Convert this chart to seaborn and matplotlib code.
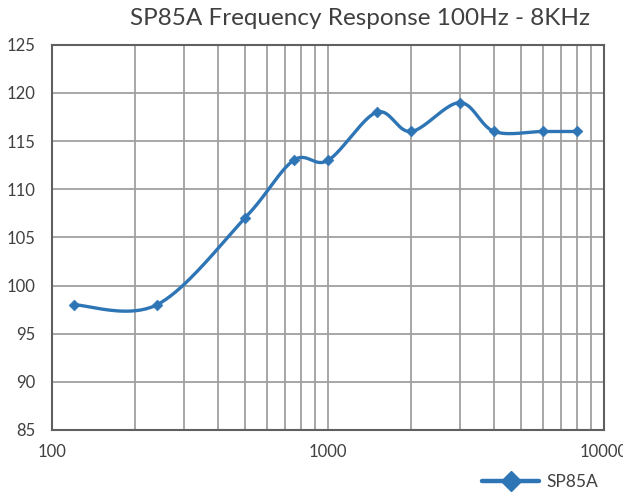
import numpy as np
import matplotlib
matplotlib.use("Agg")
import matplotlib.pyplot as plt
from matplotlib.lines import Line2D
from matplotlib.ticker import LogLocator, NullFormatter, FixedLocator
import seaborn as sns
import pandas as pd

freq_hz = [120, 240, 500, 750, 1000, 1500, 2000, 3000, 4000, 6000, 8000]
spl_db = [98, 98, 107, 113, 113, 118, 116, 119, 116, 116, 116]
series_name = "SP85A"
title = "SP85A Frequency Response 100Hz - 8KHz"

blue = "#2E75B6"
grid_c = "#A0A0A0"


def smooth_curve(xs, ys, n=40):
    # bezier smoothing like spreadsheet "smoothed line", done in log-x space
    u = np.log10(np.asarray(xs, float)) * 276.0
    v = np.asarray(ys, float) * 9.625
    pts = np.column_stack([u, v])
    out = [pts[0]]
    for i in range(len(pts) - 1):
        p0 = pts[i - 1] if i > 0 else pts[i]
        p1 = pts[i]
        p2 = pts[i + 1]
        p3 = pts[i + 2] if i + 2 < len(pts) else pts[i + 1]
        c1 = p1 + (p2 - p0) / 6.0
        c2 = p2 - (p3 - p1) / 6.0
        t = np.linspace(0, 1, n)[1:, None]
        seg = ((1 - t) ** 3) * p1 + 3 * ((1 - t) ** 2) * t * c1 + 3 * (1 - t) * t ** 2 * c2 + t ** 3 * p2
        out.extend(seg)
    out = np.array(out)
    return 10 ** (out[:, 0] / 276.0), out[:, 1] / 9.625


sns.set_theme(style="white")
plt.rcParams["font.family"] = ["Lato", "DejaVu Sans"]

fig = plt.figure(figsize=(6.23, 4.93), dpi=100)
ax = fig.add_axes([0.0835, 0.128, 0.886, 0.781])

sx, sy = smooth_curve(freq_hz, spl_db)
curve = pd.DataFrame({"f": sx, "db": sy})
pts = pd.DataFrame({"f": freq_hz, "db": spl_db})
sns.lineplot(data=curve, x="f", y="db", ax=ax, color=blue, lw=2.4, sort=False, zorder=3)
sns.scatterplot(data=pts, x="f", y="db", ax=ax, color=blue, marker="D", s=30,
                edgecolor=blue, zorder=4)

ax.set_xscale("log")
ax.set_xlim(100, 10000)
ax.set_ylim(85, 125)
ax.xaxis.set_major_locator(FixedLocator([100, 1000, 10000]))
ax.xaxis.set_minor_locator(LogLocator(base=10, subs=np.arange(2, 10)))
ax.xaxis.set_minor_formatter(NullFormatter())
ax.set_xticklabels(["100", "1000", "10000"])
ax.yaxis.set_major_locator(FixedLocator(list(range(85, 126, 5))))
ax.grid(True, which="major", color=grid_c, lw=1.3)
ax.grid(True, which="minor", axis="x", color=grid_c, lw=1.3)
ax.tick_params(which="both", length=0)
ax.tick_params(axis="y", labelsize=12, pad=12, colors="#404040")
ax.tick_params(axis="x", labelsize=12, pad=10, colors="#404040")
ax.set_xlabel("")
ax.set_ylabel("")
for sp in ax.spines.values():
    sp.set_color("#606060")
    sp.set_linewidth(1.5)

fig.text(0.578, 0.963, title, ha="center", va="center", fontsize=17.5, color="#404040")

handle = Line2D([0], [0], color=blue, lw=3.2, marker="D", markersize=10)
fig.legend([handle], [series_name], loc="center right", bbox_to_anchor=(0.985, 0.023),
           frameon=False, fontsize=12.5, handlelength=3.3, handletextpad=0.4,
           labelcolor="#404040")

fig.savefig("out.png", dpi=100)
